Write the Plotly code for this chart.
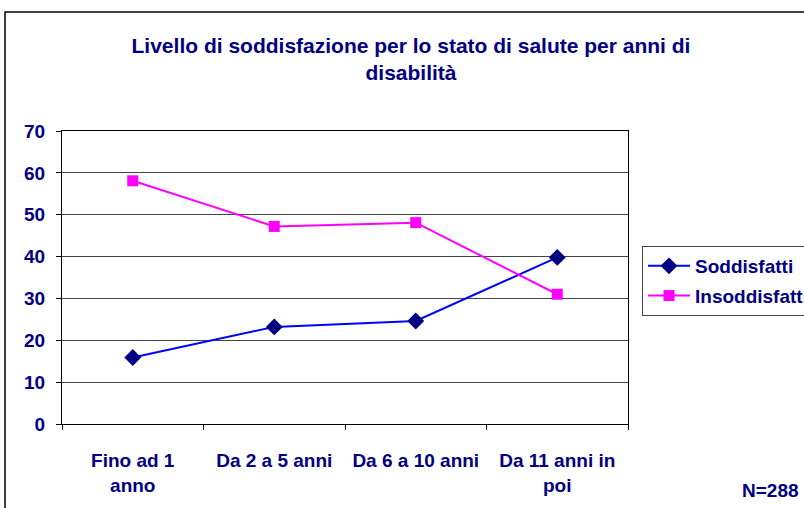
import plotly.graph_objects as go

categories = ["Fino ad 1<br>anno", "Da 2 a 5 anni", "Da 6 a 10 anni", "Da 11 anni in<br>poi"]
soddisfatti = [15.9, 23.2, 24.6, 39.8]
insoddisfatti = [58.1, 47.2, 48.1, 31.0]
y_ticks = [0, 10, 20, 30, 40, 50, 60, 70]

NAVY = "#000080"
FONT = "Liberation Sans"

fig = go.Figure()
fig.add_trace(go.Scatter(
    x=categories, y=soddisfatti, name="Soddisfatti", mode="lines+markers",
    legendgroup="a",
    line=dict(color="#0000FF", width=2),
    marker=dict(symbol="diamond", size=13, color=NAVY, line=dict(width=0)),
))
fig.add_trace(go.Scatter(
    x=categories, y=insoddisfatti, name="Insoddisfatti", mode="lines+markers",
    legendgroup="b",
    line=dict(color="#FF00FF", width=2),
    marker=dict(symbol="square", size=11, color="#FF00FF", line=dict(width=0)),
))

L, R, T, B = 62, 176, 131, 84
W, H = 804, 508
pw, ph = W - L - R, H - T - B

def px_to_paper_x(px):
    return (px - L) / pw

def px_to_paper_y(py):
    return (H - B - py) / ph

tick_font = dict(family=FONT, size=19, color=NAVY, weight="bold")

fig.update_layout(
    width=W, height=H,
    margin=dict(l=L, r=R, t=T, b=B, autoexpand=False),
    paper_bgcolor="white", plot_bgcolor="white",
    font=dict(family=FONT, color=NAVY, size=19, weight="bold"),
    title=dict(
        text="Livello di soddisfazione per lo stato di salute per anni di<br>disabilità",
        x=px_to_paper_x(411), xref="paper", xanchor="center",
        y=1 - 53 / H, yanchor="middle",
        font=dict(family=FONT, size=21, color=NAVY, weight="bold"),
    ),
    xaxis=dict(
        type="category", range=[-0.5, 3.5], tickson="boundaries",
        showgrid=False, showline=True, linecolor="black", linewidth=1,
        mirror=True, ticks="outside", ticklen=5, tickcolor="black",
        tickfont=tick_font, ticklabelstandoff=19,
        zeroline=False,
    ),
    yaxis=dict(
        range=[0, 70], tickvals=y_ticks, showgrid=True, gridcolor="#444444", gridwidth=1,
        showline=True, linecolor="black", linewidth=1, mirror=True,
        ticks="outside", ticklen=5, tickcolor="black",
        tickfont=tick_font, ticklabelstandoff=7,
        zeroline=False,
    ),
    legend=dict(
        x=px_to_paper_x(642), y=px_to_paper_y(246), xanchor="left", yanchor="top",
        bordercolor="#444444", borderwidth=1, bgcolor="white",
        font=dict(family=FONT, size=19, color=NAVY, weight="bold"),
        tracegroupgap=2, itemwidth=42,
    ),
    shapes=[dict(
        type="rect", xref="paper", yref="paper",
        x0=px_to_paper_x(5), x1=px_to_paper_x(900),
        y0=px_to_paper_y(600), y1=px_to_paper_y(12),
        line=dict(color="black", width=1.5), fillcolor="rgba(0,0,0,0)", layer="below",
    )],
    annotations=[dict(
        text="N=288", xref="paper", yref="paper",
        x=px_to_paper_x(801), y=px_to_paper_y(490), xanchor="right", yanchor="middle",
        showarrow=False, font=dict(family=FONT, size=19, color=NAVY, weight="bold"),
    )],
)

fig.write_html("out.html", config={"displayModeBar": False},
               post_script="document.body.style.margin='0';")
